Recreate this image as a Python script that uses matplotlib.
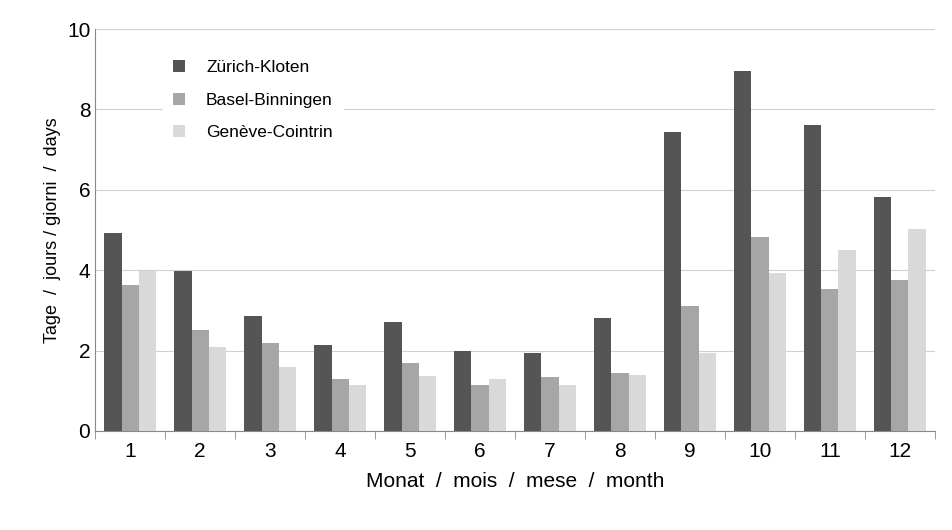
import numpy as np
import matplotlib.pyplot as plt

plt.rcParams['font.family'] = ['Liberation Sans', 'DejaVu Sans']

months = [str(m) for m in range(1, 13)]
zurich = [4.93, 3.97, 2.85, 2.15, 2.72, 2.0, 1.95, 2.82, 7.43, 8.95, 7.62, 5.82]
basel = [3.62, 2.52, 2.18, 1.28, 1.7, 1.13, 1.33, 1.45, 3.12, 4.82, 3.52, 3.75]
geneve = [3.98, 2.08, 1.6, 1.15, 1.37, 1.3, 1.15, 1.4, 1.93, 3.92, 4.5, 5.02]

fig = plt.figure(figsize=(9.52, 5.3), dpi=100)
ax = fig.add_axes([0.1, 0.187, 0.882, 0.758])
x = np.arange(len(months))
w = 0.245
ax.bar(x - w, zurich, w, color='#555555', label='Zürich-Kloten', zorder=3)
ax.bar(x, basel, w, color='#a6a6a6', label='Basel-Binningen', zorder=3)
ax.bar(x + w, geneve, w, color='#d9d9d9', label='Genève-Cointrin', zorder=3)

ax.set_xlim(-0.5, 11.5)
ax.set_ylim(0, 10)
ax.set_yticks([0, 2, 4, 6, 8, 10])
ax.yaxis.grid(True, color='#d0d0d0', lw=0.8, zorder=0)
ax.set_xticks(x)
ax.set_xticklabels(months)
ax.set_xticks(np.arange(-0.5, 12, 1), minor=True)
ax.tick_params(axis='x', which='major', length=0, labelsize=15, pad=8)
ax.tick_params(axis='x', which='minor', length=6, color='#888888', direction='out')
ax.tick_params(axis='y', length=0, labelsize=15)
for s in ['top', 'right']:
    ax.spines[s].set_visible(False)
ax.spines['left'].set_color('#888888')
ax.spines['bottom'].set_color('#888888')
ax.set_xlabel('Monat  /  mois  /  mese  /  month', fontsize=15, labelpad=8)
ax.set_ylabel('Tage  /  jours / giorni  /  days', fontsize=13)
leg = ax.legend(loc='upper left', bbox_to_anchor=(0.07, 0.97), frameon=True, fontsize=12.5,
                handlelength=0.7, handleheight=0.7, labelspacing=1.0, edgecolor='white',
                framealpha=1, borderpad=0.6, handletextpad=1.2)
fig.savefig('out.png')
